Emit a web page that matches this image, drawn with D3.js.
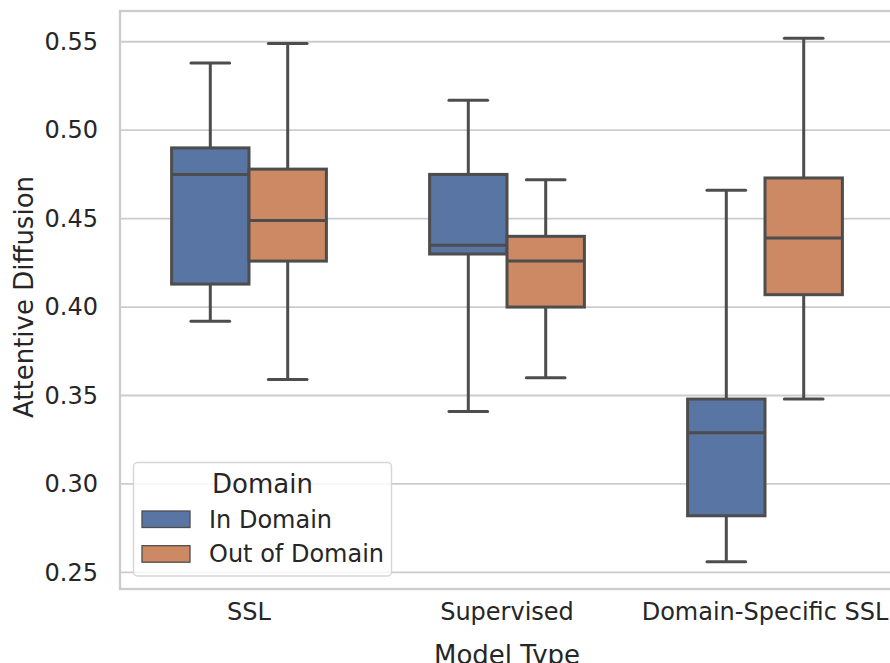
<!DOCTYPE html>
<html>
<head>
<meta charset="utf-8">
<script src="https://cdn.jsdelivr.net/npm/d3@7"></script>
<style>
  html, body { margin: 0; padding: 0; background: #ffffff; }
  svg { display: block; font-family: "DejaVu Sans", sans-serif; }
</style>
</head>
<body>
<svg id="chart" width="890" height="663"></svg>
<script>
// Model types along the x axis and the two domain groups
const categories = ["SSL", "Supervised", "Domain-Specific SSL"];
const domains = ["In Domain", "Out of Domain"];
const domainColors = ["#5875a4", "#cc8963"];

// Five-number summaries (whisker low, Q1, median, Q3, whisker high)
const inDomainLow    = [0.392, 0.341, 0.256];
const inDomainQ1     = [0.413, 0.430, 0.282];
const inDomainMedian = [0.475, 0.435, 0.329];
const inDomainQ3     = [0.490, 0.475, 0.348];
const inDomainHigh   = [0.538, 0.517, 0.466];

const outDomainLow    = [0.359, 0.360, 0.348];
const outDomainQ1     = [0.426, 0.400, 0.407];
const outDomainMedian = [0.449, 0.426, 0.439];
const outDomainQ3     = [0.478, 0.440, 0.473];
const outDomainHigh   = [0.549, 0.472, 0.552];

const yTicks = [0.25, 0.30, 0.35, 0.40, 0.45, 0.50, 0.55];

const series = [
  { domain: domains[0], low: inDomainLow, q1: inDomainQ1, med: inDomainMedian, q3: inDomainQ3, high: inDomainHigh },
  { domain: domains[1], low: outDomainLow, q1: outDomainQ1, med: outDomainMedian, q3: outDomainQ3, high: outDomainHigh }
];
const boxes = [];
series.forEach(s => categories.forEach((c, i) => boxes.push({
  category: c, domain: s.domain,
  low: s.low[i], q1: s.q1[i], med: s.med[i], q3: s.q3[i], high: s.high[i]
})));

const svg = d3.select("#chart");
const plotLeft = 120, plotRight = 894, plotTop = 11, plotBottom = 589;
const textColor = "#262626", gridColor = "#cccccc", lineColor = "#4d4d4d";
const fontSize = 24;      // tick and legend entry labels
const titleSize = 26;     // axis titles and legend title

const x = d3.scaleBand().domain(categories).range([plotLeft, plotRight]).padding(0);
const bw = x.bandwidth();
const xHue = d3.scaleBand().domain(domains).range([-0.3 * bw, 0.3 * bw]).padding(0);
const color = d3.scaleOrdinal().domain(domains).range(domainColors);
const y = d3.scaleLinear().domain([0.2406, 0.5674]).range([plotBottom, plotTop]);

// horizontal grid
svg.append("g")
  .selectAll("line").data(yTicks).join("line")
  .attr("x1", plotLeft).attr("x2", plotRight)
  .attr("y1", d => y(d)).attr("y2", d => y(d))
  .attr("stroke", gridColor).attr("stroke-width", 1.8);

// spines
svg.append("rect")
  .attr("x", plotLeft).attr("y", plotTop)
  .attr("width", plotRight - plotLeft).attr("height", plotBottom - plotTop)
  .attr("fill", "none").attr("stroke", gridColor).attr("stroke-width", 2.3);

// y axis
const yAxis = svg.append("g")
  .attr("transform", `translate(${plotLeft},0)`)
  .call(d3.axisLeft(y).tickValues(yTicks).tickFormat(d3.format(".2f")).tickSize(0).tickPadding(22));
yAxis.select(".domain").remove();
yAxis.selectAll("text").attr("fill", textColor).attr("font-size", fontSize)
  .attr("font-family", "DejaVu Sans");

// x axis
const xAxis = svg.append("g")
  .attr("transform", `translate(0,${plotBottom})`)
  .call(d3.axisBottom(x).tickSize(0).tickPadding(14));
xAxis.select(".domain").remove();
xAxis.selectAll("text").attr("fill", textColor).attr("font-size", fontSize)
  .attr("font-family", "DejaVu Sans");

// axis titles
svg.append("text")
  .attr("x", (plotLeft + plotRight) / 2 - 0).attr("y", 664)
  .attr("text-anchor", "middle").attr("fill", textColor).attr("font-size", titleSize)
  .text("Model Type");
svg.append("text")
  .attr("transform", `translate(33,${(plotTop + plotBottom) / 2 - 3}) rotate(-90)`)
  .attr("text-anchor", "middle").attr("fill", textColor).attr("font-size", titleSize)
  .text("Attentive Diffusion");

// boxes
const boxW = xHue.bandwidth();
const capW = boxW / 2;
const lw = 3;
const g = svg.append("g").selectAll("g").data(boxes).join("g")
  .attr("transform", d => `translate(${x(d.category) + bw / 2 + xHue(d.domain) + boxW / 2},0)`);

g.append("line")
  .attr("x1", 0).attr("x2", 0)
  .attr("y1", d => y(d.q3)).attr("y2", d => y(d.high))
  .attr("stroke", lineColor).attr("stroke-width", lw);
g.append("line")
  .attr("x1", 0).attr("x2", 0)
  .attr("y1", d => y(d.q1)).attr("y2", d => y(d.low))
  .attr("stroke", lineColor).attr("stroke-width", lw);
g.append("line")
  .attr("x1", -capW / 2).attr("x2", capW / 2)
  .attr("y1", d => y(d.high)).attr("y2", d => y(d.high))
  .attr("stroke", lineColor).attr("stroke-width", lw).attr("stroke-linecap", "round");
g.append("line")
  .attr("x1", -capW / 2).attr("x2", capW / 2)
  .attr("y1", d => y(d.low)).attr("y2", d => y(d.low))
  .attr("stroke", lineColor).attr("stroke-width", lw).attr("stroke-linecap", "round");
g.append("rect")
  .attr("x", -boxW / 2).attr("width", boxW)
  .attr("y", d => y(d.q3)).attr("height", d => y(d.q1) - y(d.q3))
  .attr("fill", d => color(d.domain))
  .attr("stroke", lineColor).attr("stroke-width", lw);
g.append("line")
  .attr("x1", -boxW / 2).attr("x2", boxW / 2)
  .attr("y1", d => y(d.med)).attr("y2", d => y(d.med))
  .attr("stroke", lineColor).attr("stroke-width", lw);

// legend
const legend = svg.append("g");
legend.append("rect")
  .attr("x", 133.5).attr("y", 462.5).attr("width", 258).attr("height", 113.5)
  .attr("rx", 4).attr("ry", 4)
  .attr("fill", "#ffffff").attr("fill-opacity", 0.8)
  .attr("stroke", "#d6d6d6").attr("stroke-width", 1.4);
legend.append("text")
  .attr("x", 262.5).attr("y", 492.5).attr("text-anchor", "middle")
  .attr("fill", textColor).attr("font-size", titleSize).text("Domain");
const items = legend.selectAll("g.item").data(domains).join("g")
  .attr("class", "item")
  .attr("transform", (d, i) => `translate(0,${i * 34.7})`);
items.append("rect")
  .attr("x", 142).attr("y", 511).attr("width", 48).attr("height", 16.5)
  .attr("fill", d => color(d)).attr("stroke", lineColor).attr("stroke-width", 1.3);
items.append("text")
  .attr("x", 209).attr("y", 527.5)
  .attr("fill", textColor).attr("font-size", fontSize).text(d => d);
</script>
</body>
</html>
